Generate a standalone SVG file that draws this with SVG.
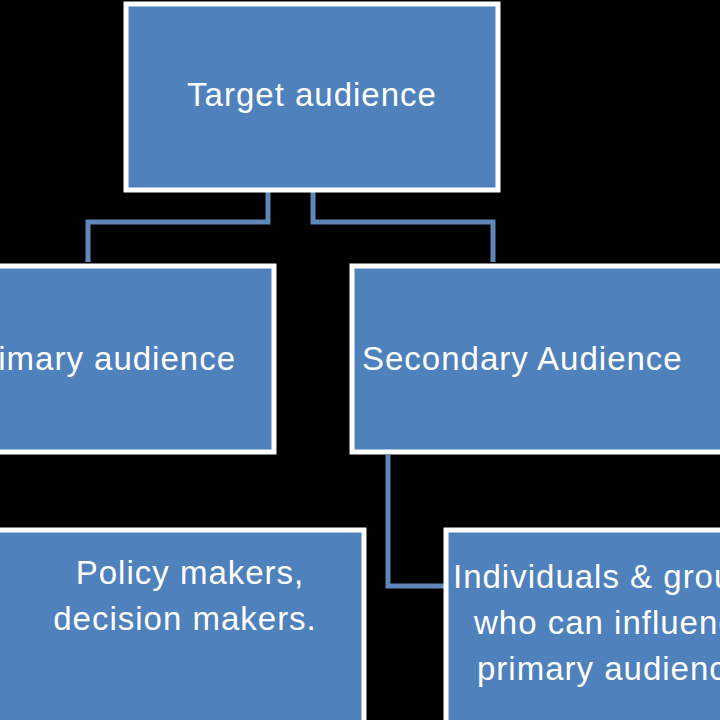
<svg xmlns="http://www.w3.org/2000/svg" width="720" height="720" viewBox="0 0 720 720">
<style>
.box{fill:#4f81bd;stroke:#fff;stroke-width:5}
.t{font-family:"Liberation Sans",Arial,sans-serif;font-size:33px;letter-spacing:1px;fill:#fff}
.c{fill:none;stroke:#5f87b8;stroke-width:5}
</style>
<rect width="720" height="720" fill="#000"/>
<g id="connectors">
<path class="c" d="M268 192V222H88V262"/>
<path class="c" d="M313 192V222H493V262"/>
<path class="c" d="M388 455V586H445"/>
</g>
<g id="target"><rect class="box" x="126" y="4" width="372" height="186"/><text class="t" x="312" y="106" text-anchor="middle">Target audience</text></g>
<g id="primary"><rect class="box" x="-10" y="266" width="284" height="186"/><text class="t" x="236" y="370" text-anchor="end">Primary audience</text></g>
<g id="secondary"><rect class="box" x="352" y="266" width="380" height="186"/><text class="t" x="362" y="370">Secondary Audience</text></g>
<g id="policy"><rect class="box" x="-10" y="530" width="374" height="200"/><text class="t" x="190" y="584" text-anchor="middle">Policy makers,</text><text class="t" x="185" y="630" text-anchor="middle">decision makers.</text></g>
<g id="individuals"><rect class="box" x="446" y="530" width="290" height="200"/><text class="t" x="453" y="588">Individuals &amp; groups</text><text class="t" x="474" y="634">who can influence</text><text class="t" x="477" y="680">primary audience</text></g>
</svg>
